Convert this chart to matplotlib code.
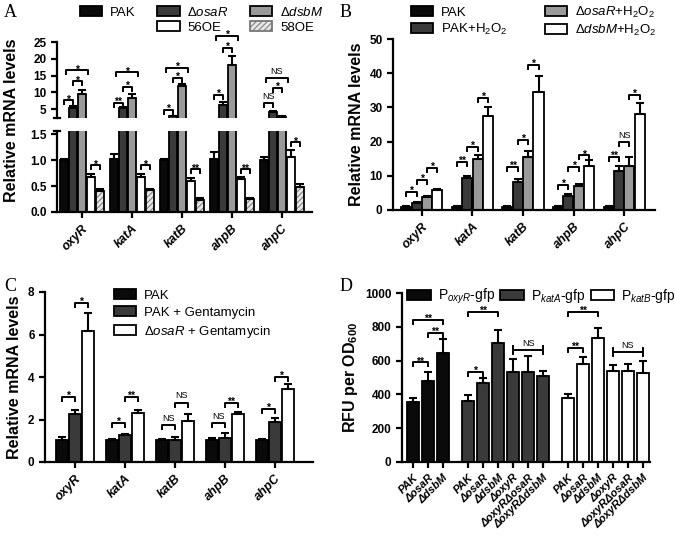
import numpy as np
import matplotlib
matplotlib.use('Agg')
import matplotlib.pyplot as plt
from matplotlib.patches import Patch

plt.rcParams['font.family'] = ['Liberation Sans', 'DejaVu Sans']
plt.rcParams['mathtext.fontset'] = 'custom'
plt.rcParams['mathtext.rm'] = 'Liberation Sans'
plt.rcParams['mathtext.it'] = 'Liberation Sans:italic'
plt.rcParams['mathtext.bf'] = 'Liberation Sans:bold'
plt.rcParams['mathtext.bfit'] = 'Liberation Sans:bold:italic'
plt.rcParams['axes.linewidth'] = 1.6
plt.rcParams['xtick.major.width'] = 1.6
plt.rcParams['ytick.major.width'] = 1.6
plt.rcParams['xtick.major.size'] = 4
plt.rcParams['ytick.major.size'] = 4
plt.rcParams['hatch.linewidth'] = 0.7

# ---------------- data ----------------
genes = ['oxyR', 'katA', 'katB', 'ahpB', 'ahpC']

# Panel A
a_pak = [1.0, 1.02, 1.0, 1.02, 1.0]
a_pak_err = [0.03, 0.10, 0.03, 0.13, 0.06]
a_osaR = [5.2, 5.3, 2.8, 6.2, 4.0]
a_osaR_err = [0.6, 0.4, 0.2, 0.8, 0.4]
a_dsbM = [9.6, 8.4, 12.0, 18.1, 2.6]
a_dsbM_err = [1.2, 1.0, 0.5, 2.6, 0.2]
a_56OE = [0.67, 0.67, 0.60, 0.63, 1.05]
a_56OE_err = [0.06, 0.06, 0.05, 0.04, 0.15]
a_58OE = [0.40, 0.42, 0.24, 0.25, 0.48]
a_58OE_err = [0.04, 0.03, 0.02, 0.02, 0.06]

# Panel B
b_pak = [1.0, 1.0, 1.0, 1.0, 1.0]
b_pak_err = [0.1, 0.1, 0.1, 0.1, 0.1]
b_pakh = [2.0, 9.3, 8.2, 4.0, 11.5]
b_pakh_err = [0.3, 0.5, 0.8, 0.8, 1.3]
b_osah = [3.8, 15.0, 15.5, 7.0, 13.0]
b_osah_err = [0.4, 1.0, 1.8, 0.5, 2.5]
b_dsbh = [5.8, 27.5, 34.5, 13.0, 28.0]
b_dsbh_err = [0.3, 2.7, 4.7, 1.5, 3.3]

# Panel C
c_pak = [1.05, 1.05, 1.05, 1.05, 1.05]
c_pak_err = [0.12, 0.05, 0.04, 0.06, 0.05]
c_pakg = [2.25, 1.25, 1.05, 1.15, 1.9]
c_pakg_err = [0.2, 0.08, 0.15, 0.2, 0.15]
c_osag = [6.15, 2.3, 1.95, 2.25, 3.45]
c_osag_err = [0.85, 0.15, 0.3, 0.1, 0.2]

# Panel D
d_strains1 = ['PAK', 'ΔosaR', 'ΔdsbM']
d_strains2 = ['PAK', 'ΔosaR', 'ΔdsbM', 'ΔoxyR', 'ΔoxyRΔosaR', 'ΔoxyRΔdsbM']
d_oxyR = [355, 480, 645]
d_oxyR_err = [25, 50, 85]
d_katA = [360, 470, 705, 535, 530, 510]
d_katA_err = [35, 30, 75, 75, 95, 30]
d_katB = [380, 580, 735, 540, 540, 525]
d_katB_err = [20, 40, 55, 35, 40, 75]

BLACK = '#0a0a0a'
DARK = '#3a3a3a'
GREY = '#9a9a9a'
WHITE = '#ffffff'

fig = plt.figure(figsize=(6.75, 5.38), dpi=100)
W, H = 675.0, 538.0


def add_ax(l, r, top, bot):
    return fig.add_axes([l / W, 1 - bot / H, (r - l) / W, (bot - top) / H])


def bars(ax, x, vals, errs, width, fc, hatch=None):
    if hatch:
        ax.bar(x, vals, width, color='#e6e6e6', edgecolor='#777777', hatch=hatch, lw=0, zorder=2)
        ax.bar(x, vals, width, fill=False, edgecolor='k', lw=1.3, zorder=3)
    else:
        ax.bar(x, vals, width, color=fc, edgecolor='k', lw=1.3, zorder=2)
    ax.errorbar(x, vals, yerr=[np.zeros(len(vals)), errs], fmt='none', ecolor='k',
                elinewidth=1.5, capsize=3, capthick=1.5, zorder=4)


def px2data(ax, px):
    bb = ax.get_position()
    hpx = bb.height * H
    y0, y1 = ax.get_ylim()
    return px * (y1 - y0) / hpx


def bracket(ax, x1, x2, y, txt, drop_px=4, fs=7, hbar=False):
    d = px2data(ax, drop_px)
    if hbar:
        ax.plot([x1, x1], [y - d, y + d], color='k', lw=1.4, clip_on=False, zorder=5)
        ax.plot([x2, x2], [y - d, y + d], color='k', lw=1.4, clip_on=False, zorder=5)
        ax.plot([x1, x2], [y, y], color='k', lw=1.4, clip_on=False, zorder=5)
    else:
        ax.plot([x1, x1, x2, x2], [y - d, y, y, y - d], color='k', lw=1.4,
                clip_on=False, zorder=5)
    if txt.startswith('*'):
        ax.annotate(txt, ((x1 + x2) / 2, y), xytext=(0, -3.0), textcoords='offset points',
                    ha='center', va='bottom', fontsize=fs + 0.5, fontweight='bold',
                    annotation_clip=False)
    else:
        ax.annotate(txt, ((x1 + x2) / 2, y), xytext=(0, 1.5), textcoords='offset points',
                    ha='center', va='bottom', fontsize=fs - 0.5, annotation_clip=False)


def style(ax):
    for s in ['top', 'right']:
        ax.spines[s].set_visible(False)
    ax.tick_params(labelsize=8.5, width=1.6, length=4)
    for lab in ax.get_yticklabels():
        lab.set_fontweight('bold')


def gene_labels(ax, centers):
    ax.set_xticks(centers)
    ax.set_xticklabels(genes, rotation=45, ha='right', rotation_mode='anchor',
                       fontsize=9, fontweight='bold', fontstyle='italic')


# ================ Panel A ================
xa = np.arange(len(genes))
wa = 0.18
a_series = [(a_pak, a_pak_err, BLACK, None), (a_osaR, a_osaR_err, DARK, None),
            (a_dsbM, a_dsbM_err, GREY, None), (a_56OE, a_56OE_err, WHITE, None),
            (a_58OE, a_58OE_err, None, '//////')]
axAt = add_ax(57, 312, 41, 118)
axAb = add_ax(57, 312, 131, 212)
for ax in (axAt, axAb):
    for j, (v, e, c, h) in enumerate(a_series):
        bars(ax, xa + (j - 2) * wa, v, e, wa * 0.98, c, h)
    ax.set_xlim(-0.5, 4.6)
    style(ax)
axAt.set_ylim(2.35, 25.3)
axAt.set_yticks([5, 10, 15, 20, 25])
axAt.spines['bottom'].set_visible(False)
axAt.tick_params(axis='x', bottom=False, labelbottom=False)
axAt.spines['left'].set_bounds(2.35, 25)
axAt.plot([-0.55, -0.45], [2.35, 2.35], color='k', lw=1.6, clip_on=False)
axAb.set_ylim(0, 1.56)
axAb.set_yticks([0, 0.5, 1.0, 1.5])
axAb.set_yticklabels(['0.0', '0.5', '1.0', '1.5'], fontweight='bold')
axAb.plot([-0.55, -0.45], [1.56, 1.56], color='k', lw=1.6, clip_on=False)
for ax in (axAt, axAb):
    for lab in ax.get_yticklabels():
        lab.set_fontweight('bold')
gene_labels(axAb, xa)
fig.text(12 / W, 1 - 120 / H, 'Relative mRNA levels', rotation=90, ha='center', va='center',
         fontsize=11.5, fontweight='bold')

# brackets A (top segment)
A_top = [(7.6, 13.3, 16.6, '*', '*', '*'), (6.8, 11.6, 16.0, '**', '*', '*'),
         (4.7, 14.3, 17.2, '*', '*', '*'), (9.2, 23.2, 26.8, '*', '*', '*'),
         (6.8, 11.3, 14.3, 'NS', '*', 'NS')]
for i, (h1, h2, h3, t1, t2, t3) in enumerate(A_top):
    p0, p1, p2 = xa[i] - 2 * wa, xa[i] - wa, xa[i]
    bracket(axAt, p0, p1, h1, t1)
    bracket(axAt, p1, p2, h2, t2)
    bracket(axAt, p0 + 0.03, p2 + 0.12, h3, t3)
A_bot = [(0.90, '*'), (0.90, '*'), (0.82, '**'), (0.82, '**'), (1.34, '*')]
for i, (h, t) in enumerate(A_bot):
    bracket(axAb, xa[i] + wa, xa[i] + 2 * wa, h, t)

handles = [Patch(facecolor=BLACK, edgecolor='k', lw=1.3), Patch(visible=False),
           Patch(facecolor=DARK, edgecolor='k', lw=1.3), Patch(facecolor=WHITE, edgecolor='k', lw=1.3),
           Patch(facecolor=GREY, edgecolor='k', lw=1.3),
           Patch(facecolor='#e6e6e6', edgecolor='#777777', hatch='//////', lw=1.3)]
labels = ['PAK', '', r'Δ$\mathit{osaR}$', '56OE', r'Δ$\mathit{dsbM}$', '58OE']
fig.legend(handles, labels, ncol=3, loc='upper left', bbox_to_anchor=(80 / W, 1 - 6 / H),
           frameon=False, fontsize=9.5, handlelength=1.7, handleheight=0.8,
           columnspacing=1.6, labelspacing=0.15, handletextpad=0.6, borderpad=0, borderaxespad=0)

# ================ Panel B ================
wb = 0.205
axB = add_ax(393, 655, 39, 210)
b_series = [(b_pak, b_pak_err, BLACK), (b_pakh, b_pakh_err, DARK),
            (b_osah, b_osah_err, GREY), (b_dsbh, b_dsbh_err, WHITE)]
for j, (v, e, c) in enumerate(b_series):
    bars(axB, xa + (j - 1.5) * wb, v, e, wb * 0.98, c)
axB.set_xlim(-0.57, 4.61)
axB.set_ylim(0, 50)
axB.set_yticks([0, 10, 20, 30, 40, 50])
style(axB)
gene_labels(axB, xa)
axB.set_ylabel('Relative mRNA levels', fontsize=11.5, fontweight='bold', labelpad=4)
B_br = [(5.3, 8.8, 12.3, '*', '*', '*'), (14.0, 18.5, 32.7, '**', '*', '*'),
        (12.6, 20.5, 42.4, '**', '*', '*'), (7.3, 12.6, 16.0, '*', '*', '*'),
        (15.5, 20.0, 33.6, '**', 'NS', '*')]
for i, hs in enumerate(B_br):
    for k in range(3):
        bracket(axB, xa[i] + (k - 1.5) * wb, xa[i] + (k - 0.5) * wb, hs[k], hs[k + 3])
hB = [Patch(facecolor=BLACK, edgecolor='k', lw=1.3), Patch(facecolor=DARK, edgecolor='k', lw=1.3),
      Patch(facecolor=GREY, edgecolor='k', lw=1.3), Patch(facecolor=WHITE, edgecolor='k', lw=1.3)]
lB = ['PAK', r'PAK+H$_2$O$_2$', r'Δ$\mathit{osaR}$+H$_2$O$_2$', r'Δ$\mathit{dsbM}$+H$_2$O$_2$']
fig.legend(hB, lB, ncol=2, loc='upper left', bbox_to_anchor=(411 / W, 1 - 5 / H),
           frameon=False, fontsize=9.5, handlelength=1.7, handleheight=0.8,
           columnspacing=2.8, labelspacing=0.2, handletextpad=0.6, borderpad=0, borderaxespad=0)

# ================ Panel C ================
wc = 0.26
axC = add_ax(45, 313, 292, 462)
c_series = [(c_pak, c_pak_err, BLACK), (c_pakg, c_pakg_err, DARK), (c_osag, c_osag_err, WHITE)]
for j, (v, e, c) in enumerate(c_series):
    bars(axC, xa + (j - 1) * wc, v, e, wc * 0.98, c)
axC.set_xlim(-0.6, 4.76)
axC.set_ylim(0, 8)
axC.set_yticks([0, 2, 4, 6, 8])
style(axC)
gene_labels(axC, xa)
axC.set_ylabel('Relative mRNA levels', fontsize=11.5, fontweight='bold', labelpad=4)
C_br = [(3.06, 7.5, '*', '*'), (1.83, 3.06, '*', '**'), (1.74, 2.8, 'NS', 'NS'),
        (1.83, 2.8, 'NS', '**'), (2.5, 4.0, '*', '*')]
for i, (h1, h2, t1, t2) in enumerate(C_br):
    bracket(axC, xa[i] - wc, xa[i], h1, t1)
    bracket(axC, xa[i], xa[i] + wc, h2, t2)
hC = [Patch(facecolor=BLACK, edgecolor='k', lw=1.3), Patch(facecolor=DARK, edgecolor='k', lw=1.3),
      Patch(facecolor=WHITE, edgecolor='k', lw=1.3)]
lC = ['PAK', 'PAK + Gentamycin', r'Δ$\mathit{osaR}$ + Gentamycin']
fig.legend(hC, lC, ncol=1, loc='upper left', bbox_to_anchor=(114 / W, 1 - 289 / H),
           frameon=False, fontsize=9.5, handlelength=1.7, handleheight=0.8,
           labelspacing=0.35, handletextpad=0.6, borderpad=0, borderaxespad=0)

# ================ Panel D ================
wd = 0.85
x1 = np.arange(3)
x2 = 3.67 + np.arange(6)
x3 = 10.33 + np.arange(6)
axD = add_ax(402, 650, 293, 462)
bars(axD, x1, d_oxyR, d_oxyR_err, wd, BLACK)
bars(axD, x2, d_katA, d_katA_err, wd, DARK)
bars(axD, x3, d_katB, d_katB_err, wd, WHITE)
axD.set_xlim(-0.73, 15.8)
axD.set_ylim(0, 1000)
axD.set_yticks([0, 200, 400, 600, 800, 1000])
style(axD)
axD.set_xticks(np.concatenate([x1, x2, x3]))
dl = []
for s in d_strains1 + d_strains2 + d_strains2:
    dl.append(s)
axD.set_xticklabels(dl, rotation=45, ha='right', rotation_mode='anchor',
                    fontsize=8, fontweight='bold', fontstyle='italic')
axD.set_ylabel(r'RFU per OD$_{\mathbf{600}}$', fontsize=11.5, fontweight='bold', labelpad=4)
bracket(axD, x1[0], x1[1], 590, '**')
bracket(axD, x1[1], x1[2], 763, '**')
bracket(axD, x1[0], x1[2], 840, '**')
bracket(axD, x2[0], x2[1], 533, '*')
bracket(axD, x2[0], x2[2], 888, '**')
bracket(axD, x2[3], x2[5], 663, 'NS', hbar=True)
bracket(axD, x3[0], x3[1], 675, '**')
bracket(axD, x3[0], x3[2], 888, '**')
bracket(axD, x3[3], x3[5], 650, 'NS', hbar=True)
hD = [Patch(facecolor=BLACK, edgecolor='k', lw=1.3), Patch(facecolor=DARK, edgecolor='k', lw=1.3),
      Patch(facecolor=WHITE, edgecolor='k', lw=1.3)]
lD = [r'P$_{\mathit{oxyR}}$-gfp', r'P$_{\mathit{katA}}$-gfp', r'P$_{\mathit{katB}}$-gfp']
fig.legend(hD, lD, ncol=3, loc='upper left', bbox_to_anchor=(407 / W, 1 - 287 / H),
           frameon=False, fontsize=10, handlelength=1.7, handleheight=0.8,
           columnspacing=0.4, handletextpad=0.5, borderpad=0, borderaxespad=0)

# panel letters
for t, x, y in [('A', 4, 4), ('B', 340, 4), ('C', 4, 278), ('D', 340, 278)]:
    fig.text(x / W, 1 - y / H, t, ha='left', va='top', fontsize=13, family='Liberation Serif')

fig.savefig('out.png', dpi=100)
